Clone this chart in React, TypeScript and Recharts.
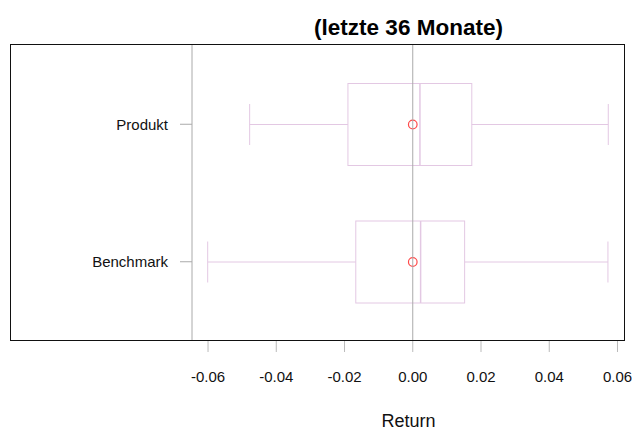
import React from 'react'
import { ComposedChart, Bar, XAxis, YAxis, ReferenceLine } from 'recharts';

const categories = ['Produkt', 'Benchmark'];
const mins = [-0.0478, -0.0601];
const q1s = [-0.019, -0.0167];
const medians = [0.0021, 0.0023];
const q3s = [0.0173, 0.0152];
const maxs = [0.0573, 0.0572];
const means = [0.0, 0.0];
const xTicks = [-0.06, -0.04, -0.02, 0, 0.02, 0.04, 0.06];

const data = categories.map((name, i) => ({
  name,
  min: mins[i],
  q1: q1s[i],
  median: medians[i],
  q3: q3s[i],
  max: maxs[i],
  mean: means[i],
  range: [mins[i], maxs[i]],
}));

const BOX = '#e3c8e3';
const FONT = '"Liberation Sans", Arial, Helvetica, sans-serif';

const BoxShape = (props: any) => {
  const { x, y, width, height, payload } = props;
  const { min, max, q1, median, q3, mean } = payload;
  const px = (v: number) => x + ((v - min) / (max - min)) * width;
  const cy = y + height / 2;
  const cap = height / 4;
  return (
    <g>
      <line x1={px(min)} x2={px(q1)} y1={cy} y2={cy} stroke={BOX} />
      <line x1={px(q3)} x2={px(max)} y1={cy} y2={cy} stroke={BOX} />
      <line x1={px(min)} x2={px(min)} y1={cy - cap} y2={cy + cap} stroke={BOX} />
      <line x1={px(max)} x2={px(max)} y1={cy - cap} y2={cy + cap} stroke={BOX} />
      <rect x={px(q1)} y={y} width={px(q3) - px(q1)} height={height} fill="none" stroke={BOX} />
      <line x1={px(median)} x2={px(median)} y1={y} y2={y + height} stroke={BOX} strokeWidth={1.5} />
      <circle cx={px(mean)} cy={cy} r={4.3} fill="none" stroke="#ff4a4a" strokeWidth={1.2} />
    </g>
  );
};

const App = () => {
  return (
    <div style={{ position: 'absolute', left: 0, top: 0, width: 632, height: 430, background: '#fff', fontFamily: FONT }}>
      <div style={{ position: 'absolute', left: 192, width: 433, top: 14, textAlign: 'center', fontSize: 22.5, fontWeight: 'bold', color: '#000', lineHeight: '28px' }}>
        (letzte 36 Monate)
      </div>
      <ComposedChart
        width={632}
        height={430}
        data={data}
        layout="vertical"
        margin={{ top: 45, right: 7, bottom: 0, left: 10 }}
      >
        <XAxis
          type="number"
          domain={[-0.0647, 0.0622]}
          allowDataOverflow
          ticks={xTicks}
          tickFormatter={(v: number) => v.toFixed(2)}
          axisLine={false}
          tickLine={{ stroke: '#bbb' }}
          tickSize={11}
          tickMargin={19}
          height={89}
          tick={{ fill: '#111', fontSize: 15, fontFamily: FONT }}
        />
        <YAxis
          type="category"
          dataKey="name"
          width={182}
          padding={{ top: 10.5, bottom: 10.5 }}
          axisLine={{ stroke: '#aaa' }}
          tickLine={{ stroke: '#aaa' }}
          tickSize={12}
          tickMargin={12}
          tick={{ fill: '#111', fontSize: 15, fontFamily: FONT }}
        />
        <ReferenceLine x={0} stroke="#aaa" />
        <Bar dataKey="range" barSize={82} shape={BoxShape} isAnimationActive={false} />
      </ComposedChart>
      <div style={{ position: 'absolute', left: 10, top: 44, width: 613, height: 295, border: '1.5px solid #111', pointerEvents: 'none' }} />
      <div style={{ position: 'absolute', left: 192, width: 433, top: 412, height: 18, textAlign: 'center', fontSize: 18, color: '#111', lineHeight: '18px' }}>
        Return
      </div>
    </div>
  );
};

export default App;
